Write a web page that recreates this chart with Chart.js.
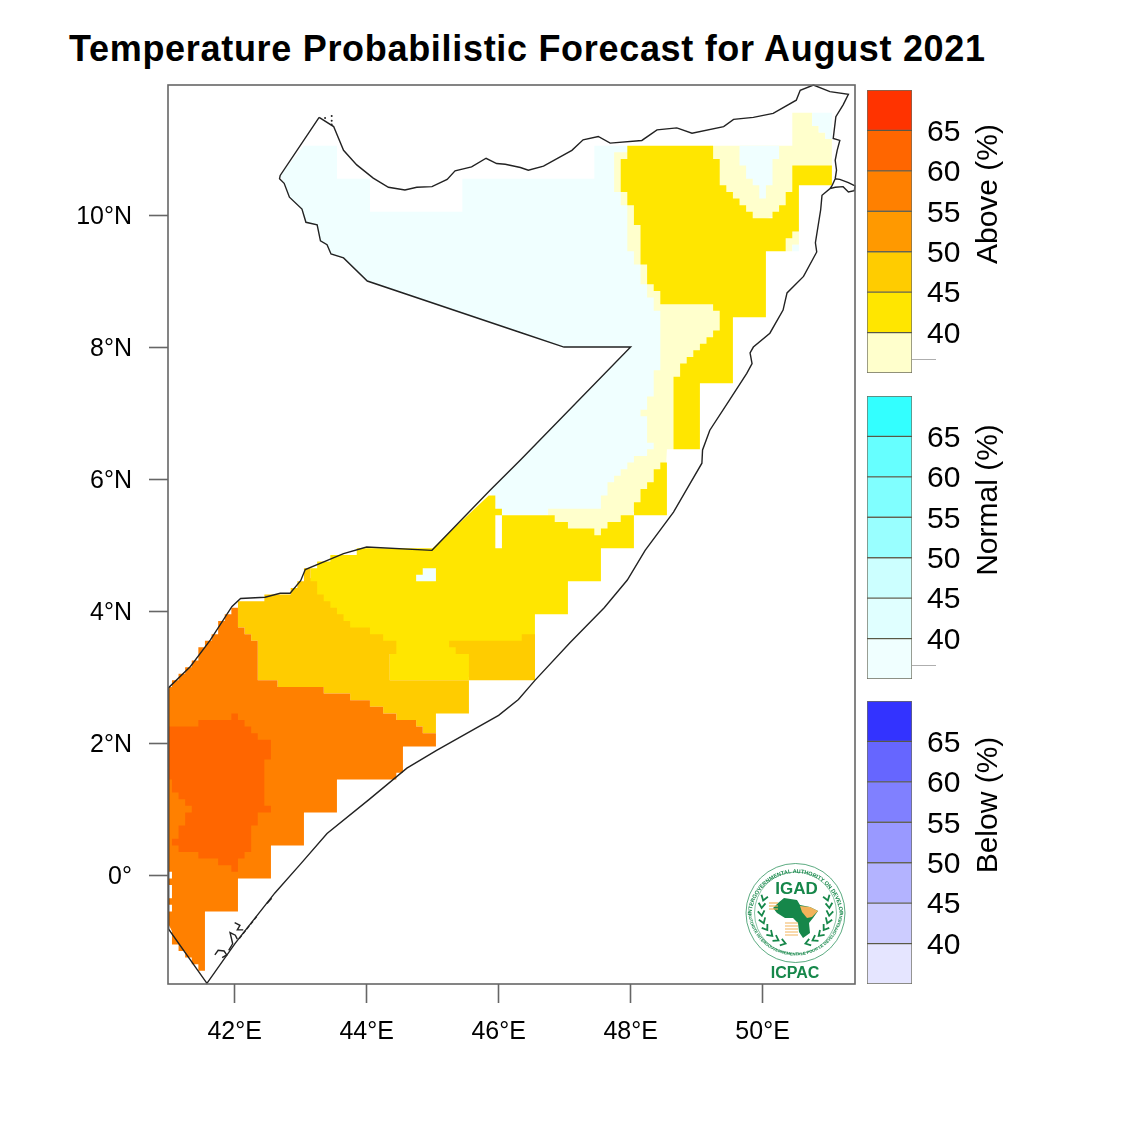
<!DOCTYPE html>
<html>
<head>
<meta charset="utf-8">
<title>Temperature Probabilistic Forecast</title>
<script src="https://cdn.jsdelivr.net/npm/chart.js@4"></script>
<style>
  html, body { margin: 0; background: #fff; width: 1125px; height: 1125px; overflow: hidden; }
  canvas, svg, #title { position: absolute; }
  #title { left: 69px; top: 28px; font: bold 36px "Liberation Sans", Arial, sans-serif; letter-spacing: 0.69px; color: #000; white-space: nowrap; }
</style>
</head>
<body>
<div id="title">Temperature Probabilistic Forecast for August 2021</div>
<canvas id="map" width="1125" height="1125" style="left:0;top:0"></canvas>
<canvas id="above" width="150" height="285" style="left:866px;top:89px"></canvas>
<canvas id="normal" width="150" height="285" style="left:866px;top:395px"></canvas>
<canvas id="below" width="150" height="285" style="left:866px;top:700px"></canvas>
<svg id="logo" width="130" height="130" viewBox="735 855 130 130" style="left:735px;top:855px"></svg>

<script>
// axis ticks
const lonTicks = [42, 44, 46, 48, 50];
const lonLabels = ['42°E', '44°E', '46°E', '48°E', '50°E'];
const latTicks = [0, 2, 4, 6, 8, 10];
const latLabels = ['0°', '2°N', '4°N', '6°N', '8°N', '10°N'];

// country outline, lon/lat
const outline = [[43.28,11.48],[42.69,10.60],[42.68,10.55],[42.75,10.48],[42.83,10.27],[43.02,10.09],[43.08,9.89],[43.25,9.85],[43.30,9.61],[43.40,9.55],[43.46,9.41],[43.65,9.35],[44.01,9.00],[46.33,8.22],[46.99,8.00],[48.00,8.00],[46.33,6.29],[45.87,5.83],[44.99,4.92],[44.00,4.97],[43.65,4.87],[43.07,4.63],[43.00,4.46],[42.84,4.27],[42.69,4.27],[42.46,4.21],[42.09,4.19],[41.96,4.07],[41.63,3.56],[41.33,3.16],[41.00,2.84],[41.00,-0.82],[41.58,-1.64],[42.01,-1.03],[42.61,-0.27],[43.00,0.17],[43.40,0.63],[44.03,1.14],[44.61,1.62],[45.06,1.89],[46.00,2.42],[46.30,2.66],[46.55,2.95],[47.08,3.52],[47.60,4.05],[47.95,4.47],[48.22,4.92],[48.65,5.50],[48.90,5.93],[49.08,6.24],[49.09,6.44],[49.20,6.74],[49.50,7.20],[49.76,7.60],[49.84,7.75],[49.81,7.91],[49.86,8.00],[50.11,8.21],[50.31,8.56],[50.37,8.82],[50.62,9.07],[50.82,9.44],[50.80,9.58],[50.88,10.08],[50.90,10.30],[51.02,10.40],[51.10,10.42],[51.22,10.43],[51.30,10.35],[51.39,10.37],[51.40,10.44],[51.30,10.49],[51.17,10.54],[51.10,10.55],[51.05,10.44],[51.02,10.40],[51.05,10.44],[51.10,10.55],[51.12,10.68],[51.10,10.83],[51.13,10.98],[51.17,11.13],[51.07,11.16],[51.11,11.49],[51.22,11.67],[51.30,11.83],[51.02,11.87],[50.77,11.97],[50.57,11.89],[50.51,11.74],[50.16,11.54],[49.86,11.48],[49.56,11.45],[49.41,11.34],[48.93,11.24],[48.70,11.32],[48.40,11.29],[48.17,11.13],[47.69,11.09],[47.51,11.19],[47.28,11.14],[47.11,10.98],[46.68,10.74],[46.45,10.68],[46.33,10.72],[46.10,10.77],[45.97,10.78],[45.81,10.86],[45.59,10.73],[45.34,10.67],[45.22,10.54],[44.99,10.43],[44.76,10.42],[44.58,10.38],[44.33,10.42],[44.10,10.56],[43.85,10.76],[43.65,10.98],[43.50,11.34],[43.28,11.48]];
const isletA = [[41.70,-1.21],[41.75,-1.14],[41.84,-1.15],[41.88,-1.21],[41.81,-1.25]];
const isletB = [[41.91,-1.14],[41.97,-1.04],[41.93,-0.87],[42.01,-0.91],[42.04,-0.97]];
const isletC = [[42.00,-0.72],[42.08,-0.76],[42.04,-0.83],[42.13,-0.83]];
const isletD = [[42.07,-0.96],[42.34,-0.62]];
const isletE = [[42.49,-0.43],[42.56,-0.35]];
const isletDots = [[43.47,11.50],[43.47,11.43],[43.47,11.37],[43.37,11.47]];

// probability zones, lon/lat cell edges
const normalMain = [[43.05,11.05],[43.55,11.05],[43.55,10.55],[44.05,10.55],[44.05,10.05],[45.45,10.05],[45.45,10.55],[47.45,10.55],[47.45,11.05],[47.95,11.05],[48.4,10.9],[48.47,8.66],[48.5,7.5],[48.5,6.6],[48.3,6.4],[47.6,5.6],[47.6,5.5],[46.8,5.46],[46.0,5.46],[45.87,5.83],[46.33,6.29],[48.00,8.00],[46.99,8.00],[46.33,8.22],[44.01,9.00],[43.65,9.35],[43.46,9.41],[43.40,9.55],[43.30,9.61],[43.25,9.85],[43.08,9.89],[43.02,10.09],[42.83,10.27],[42.75,10.48],[42.69,10.60]];
const normalValley = [[49.65,11.05],[50.25,11.05],[50.25,10.85],[50.15,10.85],[50.15,10.45],[50.05,10.45],[50.05,10.25],[49.95,10.25],[49.95,10.45],[49.85,10.45],[49.85,10.55],[49.75,10.55],[49.75,10.75],[49.65,10.75]];
const normalCorner = [[50.75,11.55],[51.05,11.55],[51.05,11.15],[50.95,11.15],[50.95,11.25],[50.85,11.25],[50.85,11.35],[50.75,11.35]];
const normalSpeck = [[50.45,9.55],[50.55,9.55],[50.55,9.45],[50.45,9.45]];
const normalSpot = [[44.85,4.65],[45.05,4.65],[45.05,4.45],[44.75,4.45],[44.75,4.55],[44.85,4.55]];
const paleNorth = [[49.2,11.05],[50.45,11.05],[50.45,11.55],[50.75,11.55],[50.75,11.35],[50.85,11.35],[50.85,11.25],[50.95,11.25],[50.95,11.15],[51.05,11.15],[51.05,10.7],[50.5,10.7],[50.5,10.3],[50.3,10.0],[49.8,9.9],[49.3,10.4],[49.2,10.8]];
const paleStrip = [[47.75,10.95],[48.5,10.95],[48.5,8.7],[49.4,8.7],[49.4,7.5],[49.0,7.5],[49.0,6.5],[48.7,6.5],[48.65,6.45],[48.55,6.45],[48.5,5.5],[48.04,5.5],[48.04,5.1],[46.8,5.1],[46.8,5.45],[46.75,5.45],[46.75,5.55],[47.55,5.55],[47.55,5.75],[47.65,5.75],[47.65,5.95],[47.75,5.95],[47.75,6.05],[47.85,6.05],[47.85,6.15],[47.95,6.15],[47.95,6.25],[48.05,6.25],[48.05,6.35],[48.25,6.35],[48.25,6.45],[48.35,6.45],[48.35,6.55],[48.25,6.55],[48.25,6.95],[48.15,6.95],[48.15,7.05],[48.25,7.05],[48.25,7.25],[48.35,7.25],[48.35,7.65],[48.45,7.65],[48.45,8.55],[48.35,8.55],[48.35,8.75],[48.25,8.75],[48.25,8.95],[48.15,8.95],[48.15,9.25],[48.05,9.25],[48.05,9.45],[47.95,9.45],[47.95,10.15],[47.85,10.15],[47.85,10.35],[47.75,10.35]];
const paleSpeck = [[50.35,9.65],[50.45,9.65],[50.45,9.75],[50.55,9.75],[50.55,9.55],[50.45,9.55],[50.45,9.45],[50.35,9.45]];
const yellowNorth = [[47.95,11.05],[49.25,11.05],[49.25,10.85],[49.35,10.85],[49.35,10.45],[49.45,10.45],[49.45,10.35],[49.55,10.35],[49.55,10.25],[49.65,10.25],[49.65,10.15],[49.75,10.15],[49.75,10.05],[49.85,10.05],[49.85,9.95],[50.15,9.95],[50.15,10.05],[50.25,10.05],[50.25,10.15],[50.35,10.15],[50.35,10.35],[50.45,10.35],[50.45,10.75],[51.05,10.75],[51.05,10.45],[50.55,10.45],[50.55,9.75],[50.45,9.75],[50.45,9.65],[50.35,9.65],[50.35,9.45],[50.05,9.45],[50.05,8.45],[49.55,8.45],[49.55,7.45],[49.05,7.45],[49.05,6.45],[48.65,6.45],[48.65,7.55],[48.75,7.55],[48.75,7.75],[48.85,7.75],[48.85,7.85],[48.95,7.85],[48.95,7.95],[49.05,7.95],[49.05,8.05],[49.15,8.05],[49.15,8.15],[49.25,8.15],[49.25,8.25],[49.35,8.25],[49.35,8.55],[49.25,8.55],[49.25,8.65],[48.45,8.65],[48.45,8.85],[48.35,8.85],[48.35,8.95],[48.25,8.95],[48.25,9.25],[48.15,9.25],[48.15,9.85],[48.05,9.85],[48.05,10.15],[47.95,10.15],[47.95,10.35],[47.85,10.35],[47.85,10.85],[47.95,10.85]];
const yellowEast = [[48.55,6.25],[48.45,6.25],[48.45,6.15],[48.35,6.15],[48.35,5.95],[48.25,5.95],[48.25,5.85],[48.15,5.85],[48.15,5.65],[48.05,5.65],[48.05,5.45],[48.55,5.45]];
const yellowSouth = [[43.15,4.65],[43.25,4.65],[43.25,4.75],[43.45,4.75],[43.45,4.85],[43.85,4.85],[43.85,4.95],[45.0,4.95],[45.85,5.75],[45.95,5.75],[45.95,5.55],[46.05,5.55],[46.05,5.45],[46.85,5.45],[46.85,5.35],[47.05,5.35],[47.05,5.25],[47.45,5.25],[47.45,5.15],[47.55,5.15],[47.55,5.25],[47.65,5.25],[47.65,5.35],[47.85,5.35],[47.85,5.45],[48.05,5.45],[48.05,4.95],[47.55,4.95],[47.55,4.45],[47.05,4.45],[47.05,3.95],[46.55,3.95],[46.55,3.0],[45.55,3.0],[45.55,2.95],[44.35,2.95],[44.35,3.35],[43.0,3.35],[43.0,4.4],[43.15,4.5]];
const blankColumn = [[45.95,5.45],[46.05,5.45],[46.05,4.95],[45.95,4.95]];
const amber = [[42.05,4.15],[42.45,4.15],[42.45,4.25],[42.85,4.25],[42.85,4.35],[42.95,4.35],[42.95,4.45],[43.05,4.45],[43.05,4.65],[43.15,4.65],[43.15,4.45],[43.25,4.45],[43.25,4.25],[43.35,4.25],[43.35,4.15],[43.45,4.15],[43.45,4.05],[43.55,4.05],[43.55,3.95],[43.65,3.95],[43.65,3.85],[43.75,3.85],[43.75,3.75],[44.05,3.75],[44.05,3.65],[44.25,3.65],[44.25,3.55],[44.45,3.55],[44.45,3.35],[44.35,3.35],[44.35,2.95],[45.55,2.95],[45.55,3.35],[45.35,3.35],[45.35,3.45],[45.25,3.45],[45.25,3.55],[46.35,3.55],[46.35,3.65],[46.55,3.65],[46.55,2.95],[45.55,2.95],[45.55,2.45],[45.05,2.45],[45.05,2.15],[44.85,2.15],[44.85,2.25],[44.75,2.25],[44.75,2.35],[44.45,2.35],[44.45,2.45],[44.25,2.45],[44.25,2.55],[44.05,2.55],[44.05,2.65],[43.75,2.65],[43.75,2.75],[43.35,2.75],[43.35,2.85],[42.65,2.85],[42.65,2.95],[42.35,2.95],[42.35,3.55],[42.25,3.55],[42.25,3.65],[42.15,3.65],[42.15,3.75],[42.05,3.75]];
const orange = [[41.00,2.85],[41.05,2.85],[41.05,2.95],[41.15,2.95],[41.15,3.05],[41.25,3.05],[41.25,3.15],[41.35,3.15],[41.35,3.25],[41.45,3.25],[41.45,3.45],[41.55,3.45],[41.55,3.55],[41.65,3.55],[41.65,3.65],[41.75,3.65],[41.75,3.85],[41.85,3.85],[41.85,3.95],[41.95,3.95],[41.95,4.05],[42.05,4.05],[42.05,3.75],[42.15,3.75],[42.15,3.65],[42.25,3.65],[42.25,3.55],[42.35,3.55],[42.35,2.95],[42.65,2.95],[42.65,2.85],[43.35,2.85],[43.35,2.75],[43.75,2.75],[43.75,2.65],[44.05,2.65],[44.05,2.55],[44.25,2.55],[44.25,2.45],[44.45,2.45],[44.45,2.35],[44.75,2.35],[44.75,2.25],[44.85,2.25],[44.85,2.15],[45.05,2.15],[45.05,1.95],[44.55,1.95],[44.55,1.55],[44.45,1.55],[44.45,1.45],[43.55,1.45],[43.55,0.95],[43.05,0.95],[43.05,0.45],[42.55,0.45],[42.55,-0.05],[42.05,-0.05],[42.05,-0.55],[41.55,-0.55],[41.55,-1.45],[41.45,-1.45],[41.45,-1.35],[41.35,-1.35],[41.35,-1.25],[41.25,-1.25],[41.25,-1.15],[41.15,-1.15],[41.15,-1.05],[41.05,-1.05],[41.05,-0.85],[41.00,-0.75],[41.00,-0.55],[41.05,-0.55],[41.05,-0.45],[41.00,-0.45],[41.00,-0.35],[41.05,-0.35],[41.05,-0.15],[41.00,-0.15],[41.00,-0.05],[41.05,-0.05],[41.05,0.05],[41.00,0.05]];
const deepOrange = [[41.00,2.25],[41.45,2.25],[41.45,2.35],[41.95,2.35],[41.95,2.45],[42.05,2.45],[42.05,2.35],[42.15,2.35],[42.15,2.25],[42.25,2.25],[42.25,2.15],[42.35,2.15],[42.35,2.05],[42.55,2.05],[42.55,1.75],[42.45,1.75],[42.45,1.05],[42.55,1.05],[42.55,0.95],[42.35,0.95],[42.35,0.75],[42.25,0.75],[42.25,0.35],[42.15,0.35],[42.15,0.25],[42.05,0.25],[42.05,0.05],[41.95,0.05],[41.95,0.15],[41.75,0.15],[41.75,0.25],[41.45,0.25],[41.45,0.35],[41.15,0.35],[41.15,0.45],[41.05,0.45],[41.05,0.55],[41.15,0.55],[41.15,0.75],[41.25,0.75],[41.25,0.95],[41.35,0.95],[41.35,1.05],[41.25,1.05],[41.25,1.15],[41.15,1.15],[41.15,1.25],[41.05,1.25],[41.05,1.45],[41.00,1.45]];

// colour key
const bandEdges = [35, 40, 45, 50, 55, 60, 65, 70];
const keyTicks = [40, 45, 50, 55, 60, 65];
const aboveColors = ['#FFFFCC', '#FFE600', '#FFCC00', '#FF9900', '#FF8000', '#FF6600', '#FF3300'];
const normalColors = ['#F0FFFF', '#E0FFFF', '#CCFFFF', '#99FFFF', '#80FFFF', '#66FFFF', '#33FFFF'];
const belowColors = ['#E5E5FF', '#CCCCFF', '#B3B3FF', '#9999FF', '#8080FF', '#6666FF', '#3333FF'];

Chart.defaults.font.family = '"Liberation Sans", Arial, sans-serif';
Chart.defaults.animation = false;
Chart.defaults.plugins.legend.display = false;
Chart.defaults.plugins.tooltip.enabled = false;

const toPoints = list => list.map(p => ({ x: p[0], y: p[1] }));

const zones = [
    [normalMain, normalColors[0]],
    [paleNorth, aboveColors[0]],
    [paleStrip, aboveColors[0]],
    [paleSpeck, aboveColors[0]],
    [normalValley, normalColors[0]],
    [normalCorner, normalColors[0]],
    [normalSpeck, normalColors[0]],
    [yellowNorth, aboveColors[1]],
    [yellowEast, aboveColors[1]],
    [yellowSouth, aboveColors[1]],
    [blankColumn, '#FFFFFF'],
    [normalSpot, normalColors[0]],
    [amber, aboveColors[2]],
    [orange, aboveColors[4]],
    [deepOrange, aboveColors[5]],
];

// first zone has to be painted first, so it gets the highest order
const datasets = zones.map((z, i) => ({
    data: toPoints(z[0]),
    showLine: true,
    fill: 'shape',
    backgroundColor: z[1],
    borderWidth: 0,
    pointRadius: 0,
    tension: 0,
    order: 100 - i,
}));
[outline, isletA, isletB, isletC, isletD, isletE].forEach(line => datasets.push({
    data: toPoints(line),
    showLine: true,
    fill: false,
    borderColor: '#222',
    borderWidth: 1.4,
    borderDash: line === isletD ? [4, 2] : [],
    pointRadius: 0,
    tension: 0,
    clip: false,
    order: 1,
}));
datasets.push({
    data: toPoints(isletDots),
    showLine: false,
    backgroundColor: '#222',
    pointRadius: 1,
    pointBorderWidth: 0,
    order: 1,
});

const frame = {
    id: 'frame',
    afterDatasetsDraw(chart) {
        const a = chart.chartArea;
        chart.ctx.save();
        chart.ctx.strokeStyle = '#666';
        chart.ctx.lineWidth = 1.6;
        chart.ctx.strokeRect(a.left, a.top, a.width, a.height);
        chart.ctx.restore();
    },
};

new Chart(document.getElementById('map'), {
    type: 'scatter',
    data: { datasets: datasets },
    plugins: [frame],
    options: {
        responsive: false,
        layout: { padding: { top: 85, right: 270 } },
        scales: {
            x: {
                type: 'linear',
                min: 40.99,
                max: 51.40,
                afterBuildTicks: s => { s.ticks = lonTicks.map(v => ({ value: v })); },
                afterFit: s => { s.height = 141; },
                grid: { drawOnChartArea: false, tickLength: 19, tickColor: '#666', tickWidth: 1.6 },
                border: { display: false },
                ticks: {
                    color: '#000', font: { size: 25 }, padding: 14, maxRotation: 0, autoSkip: false,
                    callback: (v, i) => lonLabels[i],
                },
            },
            y: {
                type: 'linear',
                min: -1.65,
                max: 11.97,
                afterBuildTicks: s => { s.ticks = latTicks.map(v => ({ value: v })); },
                afterFit: s => { s.width = 168; },
                grid: { drawOnChartArea: false, tickLength: 19, tickColor: '#666', tickWidth: 1.6 },
                border: { display: false },
                ticks: {
                    color: '#000', font: { size: 25 }, padding: 17, labelOffset: 2, autoSkip: false,
                    callback: (v, i) => latLabels[i],
                },
            },
        },
    },
});

function colourKey(id, colours, name, speck) {
    const keyLabel = {
        id: 'keyLabel',
        afterDraw(chart) {
            const c = chart.ctx, a = chart.chartArea;
            c.save();
            if (speck) {
                c.fillStyle = 'rgba(120,120,120,0.6)';
                c.fillRect(a.right, a.bottom - 14, 24, 1);
            }
            c.translate(a.right + 77, a.top + 104);
            c.rotate(-Math.PI / 2);
            c.font = '30px "Liberation Sans", Arial, sans-serif';
            c.fillStyle = '#000';
            c.textAlign = 'center';
            c.textBaseline = 'middle';
            c.fillText(name, 0, 0);
            c.restore();
        },
    };
    new Chart(document.getElementById(id), {
        type: 'bar',
        data: {
            labels: [''],
            datasets: colours.map((col, i) => ({
                data: [[bandEdges[i], bandEdges[i + 1]]],
                backgroundColor: col,
                borderColor: 'rgba(60,60,40,0.75)',
                borderWidth: 1,
                borderSkipped: false,
                barPercentage: 1,
                categoryPercentage: 1,
                grouped: false,
            })),
        },
        plugins: [keyLabel],
        options: {
            responsive: false,
            layout: { padding: { left: 1, top: 1, bottom: 1 } },
            scales: {
                x: { display: false },
                y: {
                    position: 'right',
                    min: 35,
                    max: 70,
                    afterBuildTicks: s => { s.ticks = keyTicks.map(v => ({ value: v })); },
                    afterFit: s => { s.width = 104; s.paddingTop = 0; s.paddingBottom = 0; },
                    grid: { display: false },
                    border: { display: false },
                    ticks: { color: '#000', font: { size: 30 }, padding: 7, labelOffset: 2 },
                },
            },
        },
    });
}
colourKey('above', aboveColors, 'Above (%)', true);
colourKey('normal', normalColors, 'Normal (%)', true);
colourKey('below', belowColors, 'Below (%)', false);

// IGAD / ICPAC badge
const green = '#16874A';
const gold = '#F2B35A';
let badge = `
<defs>
  <path id="arcTop" d="M 751.5 917 A 44 44 0 0 1 839.5 917"/>
  <path id="arcBot" d="M 748 911 A 47.6 47.6 0 0 0 843 911"/>
</defs>
<circle cx="795.5" cy="913" r="49.5" fill="none" stroke="${green}" stroke-width="0.7"/>
<circle cx="795.5" cy="913" r="41" fill="none" stroke="${green}" stroke-width="0.5"/>
<text font-family="Liberation Sans" font-size="5.5" font-weight="bold" fill="${green}"><textPath href="#arcTop" startOffset="2">INTERGOVERNMENTAL AUTHORITY ON DEVELOPMENT</textPath></text>
<text font-family="Liberation Sans" font-size="4.2" font-weight="bold" fill="${green}"><textPath href="#arcBot" startOffset="3">AUTORITE INTERGOUVERNEMENTALE POUR LE DEVELOPPEMENT</textPath></text>
<text x="796.5" y="894" text-anchor="middle" font-family="Liberation Sans" font-weight="bold" font-size="17" fill="${green}">IGAD</text>
<text x="795" y="978" text-anchor="middle" font-family="Liberation Sans" font-weight="bold" font-size="16" fill="${green}">ICPAC</text>
<path d="M784 898 L797 900 L800 905 L810 907 L818 911 L813 918 L809 923 L810 933 L803 938 L799 932 L798 923 L793 918 L785 918 L777 913 L773 908 L778 903 Z" fill="${green}"/>
<path d="M800 906 L810 907 L818 911 L812 917 L807 918 L802 912 Z" fill="${gold}"/>
`;
[903, 906, 909].forEach(y => { badge += `<line x1="769" y1="${y}" x2="778" y2="${y}" stroke="${gold}" stroke-width="1.2"/>`; });
[923, 926, 929, 932, 935].forEach(y => { badge += `<line x1="785" y1="${y}" x2="798" y2="${y}" stroke="${gold}" stroke-width="1"/>`; });
// laurel chevrons either side
for (let deg = 72; deg <= 165; deg += 13) {
    [1, -1].forEach(side => {
        const t = deg * Math.PI / 180;
        const cx = 795.5 + side * 34 * Math.sin(t);
        const cy = 911 - 34 * Math.cos(t);
        const dir = Math.atan2(Math.sin(t), side * Math.cos(t));
        const arm = (a) => `${cx - 6 * Math.cos(dir + a)} ${cy - 6 * Math.sin(dir + a)}`;
        badge += `<path d="M${arm(0.6)} L${cx} ${cy} L${arm(-0.6)}" fill="none" stroke="${green}" stroke-width="1.8"/>`;
    });
}
document.getElementById('logo').innerHTML = badge;
</script>
</body>
</html>
